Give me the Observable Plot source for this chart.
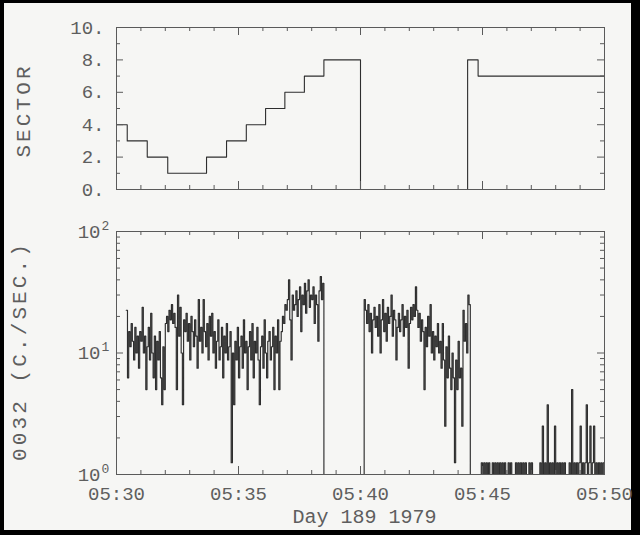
<!DOCTYPE html>
<html>
<head>
<meta charset="utf-8">
<script src="https://cdn.jsdelivr.net/npm/d3@7"></script>
<script src="https://cdn.jsdelivr.net/npm/@observablehq/plot@0.6"></script>
<style>
  html, body { margin: 0; padding: 0; background: #000; width: 640px; height: 535px; overflow: hidden; }
  #paper { position: absolute; left: 4px; top: 3px; width: 627px; height: 527px; background: #f6f6f4; }
  #top, #bottom { position: absolute; left: 0; }
  #top { top: 0; }
  #bottom { top: 210px; }
</style>
</head>
<body>
<div id="paper"></div>
<div id="top"></div>
<div id="bottom"></div>
<script>
// ---- x axis (minutes after 05:30, Day 189 1979) ----
const xTicks = [0, 5, 10, 15, 20];
const xTickLabels = ["05:30", "05:35", "05:40", "05:45", "05:50"];

// ---- SECTOR panel ----
const sectorTimes  = [0, 0.44, 1.26, 2.10, 3.69, 4.51, 5.32, 6.11, 6.90, 7.70, 8.50, 10.0, 14.39, 14.82, 20.0];
const sectorValues = [4, 3, 2, 1, 2, 3, 4, 5, 6, 7, 8, 0, 8, 7, 7];
const sectorTicks = [0, 2, 4, 6, 8, 10];
const sectorTickLabels = ["0.", "2.", "4.", "6.", "8.", "10."];

// ---- 0032 count-rate panel (c/s), sampled every 0.05 min ----
const sampleStep = 0.05;
const seg1Start = 0.40;
const seg1Counts = [
  22.5, 6.25, 15, 11.25, 17.5, 12.5, 8.75, 16.25, 10, 13.75,
  7.5, 15, 12.5, 23.75, 10, 13.75, 5, 11.25, 16.25, 8.75,
  21.25, 10, 6.25, 13.75, 5, 12.5, 8.75, 15, 6.25, 3.75,
  11.25, 5, 17.5, 20, 15, 22.5, 18.75, 25, 17.5, 21.25,
  16.25, 5, 30, 13.75, 23.75, 10, 3.75, 18.75, 15, 21.25,
  12.5, 17.5, 8.75, 20, 15, 11.25, 18.75, 13.75, 7.5, 27.5,
  12.5, 16.25, 10, 27.5, 15, 11.25, 17.5, 8.75, 20, 13.75,
  21.25, 10, 15, 7.5, 12.5, 18.75, 8.75, 11.25, 16.25, 6.25,
  13.75, 10, 17.5, 8.75, 11.25, 15, 1.25, 10, 3.75, 12.5,
  8.75, 16.25, 6.25, 11.25, 13.75, 7.5, 18.75, 10, 12.5, 5,
  11.25, 15, 8.75, 17.5, 6.25, 12.5, 10, 16.25, 8.75, 3.75,
  11.25, 13.75, 7.5, 18.75, 10, 6.25, 12.5, 15, 8.75, 11.25,
  16.25, 5, 13.75, 10, 18.75, 5, 12.5, 15,
  20, 17.5, 25, 22.5,
  27.5, 40, 18.75, 8.75, 30, 22.5, 25, 32.5, 20, 27.5,
  35, 15, 30, 25, 37.5, 21.25, 32.5, 40, 23.75, 30,
  27.5, 35, 17.5, 30, 25, 12.5, 32.5, 42.5, 27.5, 37.5
];
const gapStart = 8.50;
const seg2Start = 10.15;
const seg2Counts = [
  27.5, 22.5, 17.5, 25, 15, 21.25, 10, 18.75, 23.75, 16.25,
  20, 13.75, 25, 10, 18.75, 27.5, 15, 21.25, 12.5, 23.75,
  17.5, 20, 30, 13.75, 22.5, 18.75, 8.75, 16.25, 21.25, 15,
  18.75, 25, 13.75, 20, 16.25, 22.5, 7.5, 17.5, 23.75, 18.75,
  25, 20, 35, 22.5, 16.25, 21.25, 12.5, 18.75, 15, 5,
  16.25, 11.25, 20, 13.75, 25, 10, 15, 8.75, 13.75, 11.25,
  17.5, 10, 12.5, 7.5, 17.5, 8.75, 2.5, 11.25, 6.25, 13.75,
  7.5, 5, 10, 6.25, 1.25, 8.75, 5, 12.5, 6.25, 7.5,
  2.5, 22.5, 12.5, 17.5, 10, 30, 25
];
const tailStart = 14.50;
const tailCounts = [
  0, 0, 0, 0, 0, 0, 0, 0, 0, 1.25,
  0, 1.25, 0, 1.25, 0, 1.25, 0, 0, 1.25, 0,
  1.25, 0, 1.25, 0, 1.25, 0, 1.25, 0, 1.25, 0,
  0, 1.25, 0, 1.25, 0, 0, 0, 1.25, 0, 1.25,
  0, 1.25, 0, 1.25, 0, 1.25, 0, 0, 1.25, 0,
  1.25, 0, 0, 0, 0, 0, 0, 1.25, 0, 2.5,
  0, 1.25, 0, 3.75, 0, 1.25, 0, 1.25, 0, 2.5,
  0, 1.25, 0, 1.25, 0, 1.25, 0, 1.25, 0, 0,
  0, 1.25, 0, 5, 0, 1.25, 0, 1.25, 0, 1.25,
  2.5, 0, 1.25, 0, 1.25, 3.75, 0, 1.25, 2.5, 0,
  1.25, 2.5, 0, 1.25, 0, 1.25, 0, 1.25, 0, 1.25
];
const countTicks = [1, 10, 100];
const countTickExponents = ["0", "1", "2"];

// ---- build tables ----
const sectorRows = sectorTimes.map((t, i) => ({t, s: sectorValues[i]}));
const countRows = [];
seg1Counts.forEach((c, i) => countRows.push({t: seg1Start + i * sampleStep, c}));
countRows.push({t: gapStart, c: 0});
seg2Counts.forEach((c, i) => countRows.push({t: seg2Start + i * sampleStep, c}));
tailCounts.forEach((c, i) => countRows.push({t: tailStart + i * sampleStep, c}));
countRows.push({t: 20, c: tailCounts[tailCounts.length - 1]});

// ---- styling ----
const FONT = "'Liberation Mono', 'DejaVu Sans Mono', monospace";
const INK = "#5e5e5e";
const FRAME = "#5a5a5a";
const DATA = "#2e2e2e";
const baseStyle = {background: "transparent", fontFamily: FONT, fontSize: "19px", color: INK, overflow: "visible"};

const minuteMinor = d3.range(0, 21).filter(m => m % 5 !== 0);
const W = 488;

function xTickMarks(H, minor, major) {
  return [
    Plot.ruleX(minuteMinor, {x: d => d, insetTop: H - minor, stroke: FRAME}),
    Plot.ruleX(xTicks, {x: d => d, insetTop: H - major, stroke: FRAME}),
    Plot.ruleX(minuteMinor, {x: d => d, insetBottom: H - minor, stroke: FRAME}),
    Plot.ruleX(xTicks, {x: d => d, insetBottom: H - major, stroke: FRAME})
  ];
}
function yTickMarks(values, len) {
  return [
    Plot.ruleY(values, {y: d => d, insetRight: W - len, stroke: FRAME}),
    Plot.ruleY(values, {y: d => d, insetLeft: W - len, stroke: FRAME})
  ];
}

// ---- top panel: SECTOR ----
const H1 = 162;
const topPlot = Plot.plot({
  width: 640, height: 210,
  marginLeft: 116, marginRight: 36, marginTop: 27, marginBottom: 21,
  x: {domain: [0, 20], axis: null},
  y: {domain: [0, 10], axis: null},
  style: baseStyle,
  marks: [
    Plot.line(sectorRows, {x: "t", y: "s", curve: "step-after", stroke: DATA, strokeWidth: 1.1}),
    Plot.frame({stroke: FRAME}),
    ...xTickMarks(H1, 4, 8),
    ...yTickMarks([1, 3, 5, 7, 9], 4),
    ...yTickMarks(sectorTicks, 7),
    Plot.axisY(sectorTicks, {tickSize: 0, tickPadding: 12, tickFormat: d => sectorTickLabels[sectorTicks.indexOf(d)], label: null, fill: INK}),
    Plot.text(["SECTOR"], {frameAnchor: "left", textAnchor: "middle", lineAnchor: "middle", dx: -93.5, dy: 2, rotate: -90, fontSize: 21, fill: INK, className: "vlabel"})
  ]
});
document.getElementById("top").appendChild(topPlot);

// ---- bottom panel: 0032 count rate ----
const H2 = 243;
const logMinor = [2, 3, 4, 5, 6, 7, 8, 9, 20, 30, 40, 50, 60, 70, 80, 90];
const bottomPlot = Plot.plot({
  width: 640, height: 325,
  marginLeft: 116, marginRight: 36, marginTop: 21, marginBottom: 61,
  x: {domain: [0, 20], axis: null},
  y: {type: "log", domain: [1, 100], axis: null},
  style: baseStyle,
  marks: [
    Plot.line(countRows, {x: "t", y: d => Math.max(d.c, 1), curve: "step-after", stroke: DATA, strokeWidth: 1.15, clip: true}),
    Plot.frame({stroke: FRAME}),
    ...xTickMarks(H2, 4, 8),
    ...yTickMarks(logMinor, 4),
    ...yTickMarks(countTicks, 7),
    Plot.axisX(xTicks, {tickSize: 0, tickPadding: 12, tickFormat: d => xTickLabels[xTicks.indexOf(d)], label: null, fill: INK, fontSize: 19}),
    Plot.text(countTicks, {y: d => d, text: () => "10", frameAnchor: "left", textAnchor: "end", dx: -16, fontSize: 19, fill: INK}),
    Plot.text(countTicks, {y: d => d, text: d => countTickExponents[countTicks.indexOf(d)], frameAnchor: "left", textAnchor: "start", dx: -15, dy: -6, fontSize: 13, fill: INK}),
    Plot.text(["0032 (C./SEC.)"], {frameAnchor: "left", textAnchor: "middle", lineAnchor: "middle", dx: -97.5, dy: -2, rotate: -90, fontSize: 21, fill: INK, className: "vlabel"}),
    Plot.text(["Day 189 1979"], {frameAnchor: "bottom", textAnchor: "middle", lineAnchor: "middle", dx: 4, dy: 42, fontSize: 20, fill: INK})
  ]
});
document.getElementById("bottom").appendChild(bottomPlot);

d3.selectAll(".vlabel text").attr("letter-spacing", "3.1px");
</script>
</body>
</html>
